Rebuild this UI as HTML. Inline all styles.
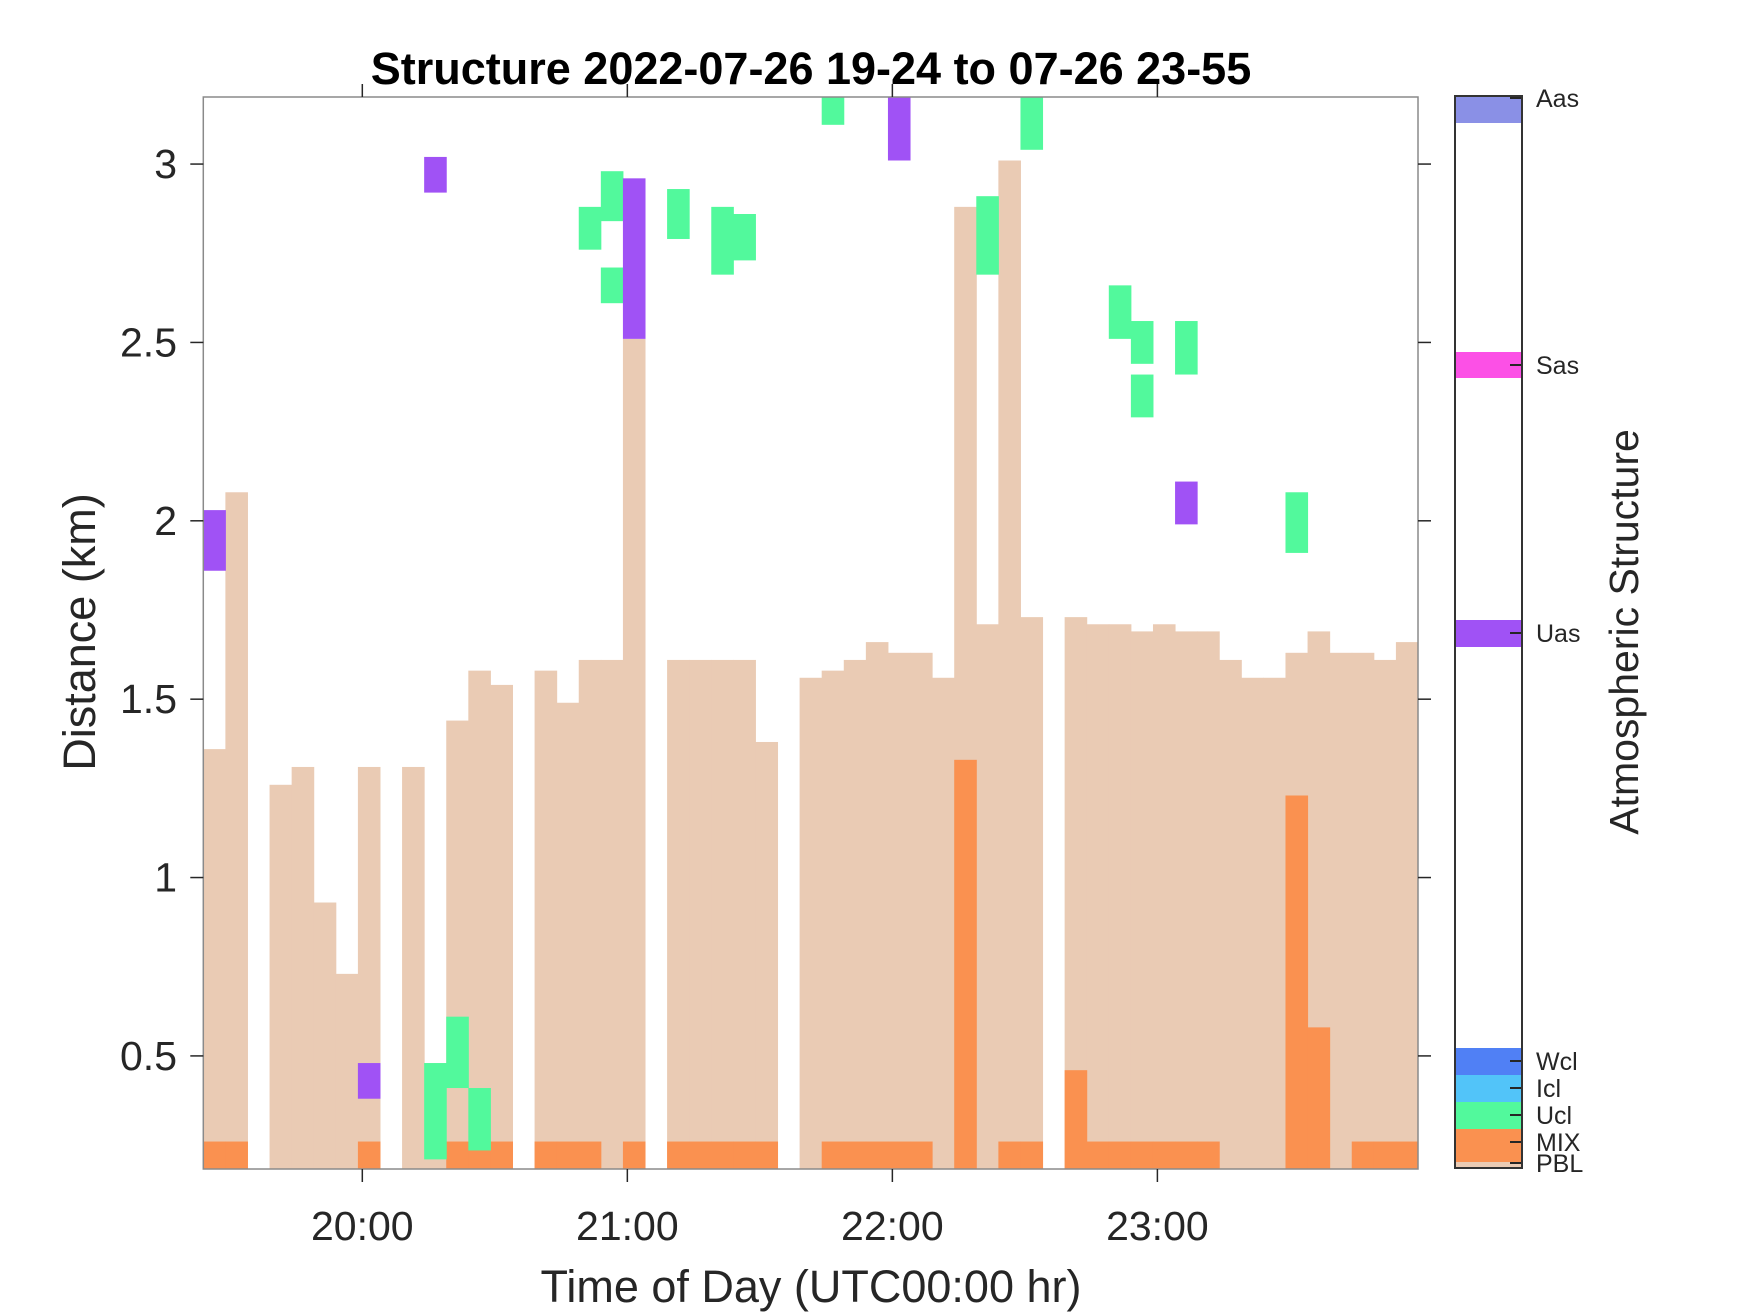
<!DOCTYPE html>
<html><head><meta charset="utf-8"><style>
html,body{margin:0;padding:0;background:#fff;}
svg{display:block;font-family:"Liberation Sans",Arial,sans-serif;}
</style></head><body>
<svg id="chart" width="1750" height="1313" viewBox="0 0 1750 1313">
<text x="811" y="84" font-size="45" font-weight="bold" text-anchor="middle" fill="#000">Structure 2022-07-26 19-24 to 07-26 23-55</text>
<g id="marks"></g>
<g id="axes"></g>
<text x="0" y="0" font-size="45" text-anchor="middle" fill="#262626" transform="translate(95,632) rotate(-90)">Distance (km)</text>
<text x="811" y="1302" font-size="45" text-anchor="middle" fill="#262626">Time of Day (UTC00:00 hr)</text>
<text x="0" y="0" font-size="41" text-anchor="middle" fill="#262626" transform="translate(1638,632) rotate(-90)">Atmospheric Structure</text>
<g id="cbar"></g>
</svg>
<script>
// bin index k => start time 19:24 + 5k minutes
const pblTop = [1.36,2.08,0,1.26,1.31,0.93,0.73,1.31,0,1.31,0.48,1.44,1.58,1.54,0,1.58,1.49,1.61,1.61,2.51,0,1.61,1.61,1.61,1.61,1.38,0,1.56,1.58,1.61,1.66,1.63,1.63,1.56,2.88,1.71,3.01,1.73,0,1.73,1.71,1.71,1.69,1.71,1.69,1.69,1.61,1.56,1.56,1.63,1.69,1.63,1.63,1.61,1.66];
const mixTop = [0.26,0.26,0,0,0,0,0,0.26,0,0,0,0.26,0.26,0.26,0,0.26,0.26,0.26,0,0.26,0,0.26,0.26,0.26,0.26,0.26,0,0,0.26,0.26,0.26,0.26,0.26,0,1.33,0,0.26,0.26,0,0.46,0.26,0.26,0.26,0.26,0.26,0.26,0,0,0,1.23,0.58,0,0.26,0.26,0.26];
// [bin, bottom, top]
const uclCells = [[10,0.21,0.48],[11,0.41,0.61],[12,0.235,0.41],[17,2.76,2.88],[18,2.84,2.98],[18,2.61,2.71],[21,2.79,2.93],[23,2.69,2.88],[24,2.73,2.86],[28,3.11,3.2],[35,2.69,2.91],[37,3.04,3.2],[41,2.51,2.66],[42,2.44,2.56],[42,2.29,2.41],[44,2.41,2.56],[49,1.91,2.08]];
const uasCells = [[0,1.86,2.03],[7,0.38,0.48],[10,2.92,3.02],[19,2.51,2.96],[31,3.01,3.2],[44,1.99,2.11]];
const yTicks = [0.5,1,1.5,2,2.5,3];
const xTickLabels = ["20:00","21:00","22:00","23:00"];
const xTickMins = [1200,1260,1320,1380];

const L=203.3,R=1418,T=97,B=1169;
const t0=1164, t1=1164+55*5;
const yMin=0.183,yMax=3.188;
const xs=m=>L+(m-t0)/(t1-t0)*(R-L);
const ys=v=>B-(v-yMin)/(yMax-yMin)*(B-T);
const NS="http://www.w3.org/2000/svg";
const marks=document.getElementById('marks');
function rect(g,x,y,w,h,fill){const r=document.createElementNS(NS,'rect');r.setAttribute('x',x);r.setAttribute('y',y);r.setAttribute('width',w);r.setAttribute('height',h);r.setAttribute('fill',fill);g.appendChild(r);return r;}
function cell(k,b,t,fill){
  const x0=xs(t0+5*k),x1=xs(t0+5*(k+1));
  const yb=ys(Math.max(b,yMin)),yt=ys(Math.min(t,yMax));
  return rect(marks,x0,yt,x1-x0+0.5,yb-yt,fill);
}
pblTop.forEach((v,k)=>{if(v>0){const r=cell(k,yMin,v,'#eacbb4');

}});
mixTop.forEach((v,k)=>{if(v>0){const r=cell(k,yMin,v,'#fa9150');

}});
uclCells.forEach(c=>{const r=cell(c[0],c[1],c[2],'#52f99c');

});
uasCells.forEach(c=>{const r=cell(c[0],c[1],c[2],'#a052f5');

});

const axes=document.getElementById('axes');
function line(g,x1,y1,x2,y2,st,w){const l=document.createElementNS(NS,'line');l.setAttribute('x1',x1);l.setAttribute('y1',y1);l.setAttribute('x2',x2);l.setAttribute('y2',y2);l.setAttribute('stroke',st);l.setAttribute('stroke-width',w||1.5);g.appendChild(l);return l;}
const box=document.createElementNS(NS,'rect');
box.setAttribute('x',L);box.setAttribute('y',T);box.setAttribute('width',R-L);box.setAttribute('height',B-T);
box.setAttribute('fill','none');box.setAttribute('stroke','#8a8a8a');box.setAttribute('stroke-width','1.5');


axes.appendChild(box);
function txt(g,x,y,s,size,anchor){const t=document.createElementNS(NS,'text');t.setAttribute('x',x);t.setAttribute('y',y);t.setAttribute('font-size',size);t.setAttribute('text-anchor',anchor);t.setAttribute('fill','#262626');t.textContent=s;g.appendChild(t);return t;}
yTicks.forEach(v=>{const y=ys(v);line(axes,L-13,y,L,y,'#262626');line(axes,R,y,R+13,y,'#262626');
const t=txt(axes,177,y+14,String(v),41,'end');

});
xTickMins.forEach((m,i)=>{const x=xs(m);line(axes,x,B,x,B+13,'#262626');line(axes,x,T-13,x,T,'#262626');
const t=txt(axes,x,1240,xTickLabels[i],41,'middle');

});

// colorbar
const cbNames=["Aas","Sas","Uas","Wcl","Icl","Ucl","MIX","PBL"];
const cbColors=["#8a90e6","#fc50e6","#a052f5","#5080f5","#52c4f9","#52f99c","#fa9150","#eacbb4"];
const cbBand=[[96,123],[352,378],[620,647],[1048,1075],[1075,1102],[1102,1129],[1129,1162],[1162,1168]];
const cbTick=[98,365,633,1061,1088,1115,1142,1163];
const cb=document.getElementById('cbar');
cbNames.forEach((n,i)=>{const r=rect(cb,1455,cbBand[i][0],67,cbBand[i][1]-cbBand[i][0],cbColors[i]);


line(cb,1510,cbTick[i],1522,cbTick[i],'#262626',2);
const t=txt(cb,1536,cbTick[i]+9,n,25,'start');

});
const cbb=document.createElementNS(NS,'rect');
cbb.setAttribute('x',1455);cbb.setAttribute('y',96);cbb.setAttribute('width',67);cbb.setAttribute('height',1072);
cbb.setAttribute('fill','none');cbb.setAttribute('stroke','#333');cbb.setAttribute('stroke-width','2');


cb.appendChild(cbb);
</script>
</body></html>
